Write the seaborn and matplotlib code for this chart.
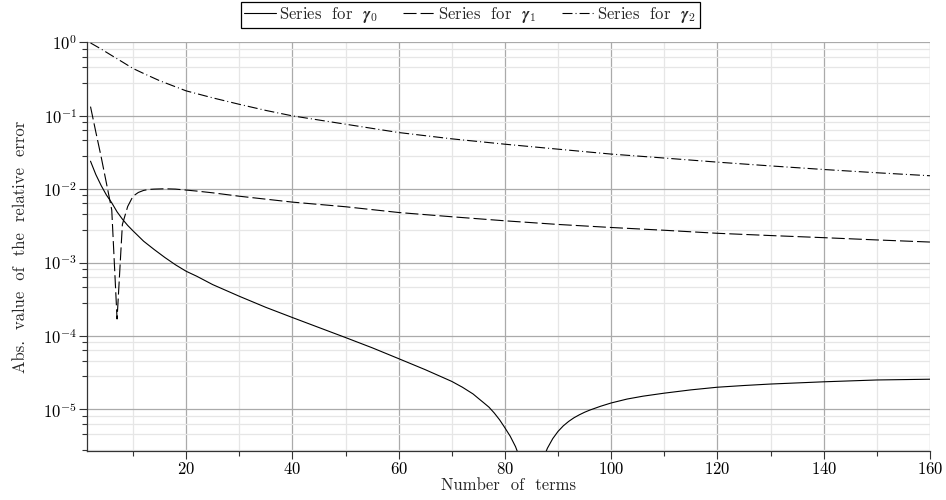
import pandas as pd
import matplotlib
matplotlib.use("Agg")
import matplotlib.pyplot as plt
from matplotlib.ticker import LogLocator, MultipleLocator, LogFormatterMathtext, NullFormatter
import seaborn as sns

# number of terms / abs. relative error
n_g0 = [2, 3, 4, 5, 6, 7, 8, 9, 10, 12, 14, 16, 18, 20, 22, 25, 30, 35, 40, 45, 50, 55,
        60, 65, 70, 72, 74, 75, 76, 77, 78, 79, 80, 81, 82, 83, 84, 85, 86, 87, 88, 89,
        90, 91, 92, 93, 94, 95, 96, 98, 100, 103, 106, 110, 115, 120, 125, 130, 140,
        150, 160]
err_g0 = [0.024, 0.0158, 0.0112, 0.0083, 0.0065, 0.0049, 0.0039, 0.0032, 0.0027, 0.00195,
          0.0015, 0.00117, 0.00093, 0.00076, 0.00065, 0.0005, 0.000347, 0.000245,
          0.000178, 0.00013, 9.5e-5, 6.9e-5, 4.9e-5, 3.47e-5, 2.4e-5, 2.0e-5, 1.62e-5,
          1.41e-5, 1.23e-5, 1.07e-5, 8.9e-6, 7.2e-6, 5.6e-6, 4.3e-6, 3.1e-6, 2.0e-6,
          1.0e-6, 1.0e-7, 9.5e-7, 1.95e-6, 2.95e-6, 3.98e-6, 5.0e-6, 5.96e-6, 6.84e-6,
          7.67e-6, 8.41e-6, 9.12e-6, 9.77e-6, 1.10e-5, 1.22e-5, 1.38e-5, 1.51e-5,
          1.66e-5, 1.84e-5, 2.0e-5, 2.11e-5, 2.21e-5, 2.37e-5, 2.51e-5, 2.57e-5]

n_g1 = [2, 3, 4, 5, 6, 7, 8, 9, 10, 11, 12, 13, 14, 15, 16, 17, 18, 20, 22, 25, 30, 40,
        50, 60, 70, 80, 90, 100, 110, 120, 130, 140, 150, 160]
err_g1 = [0.133, 0.06, 0.0276, 0.012, 0.0052, 1.7e-4, 0.0033, 0.0058, 0.0080, 0.0090,
          0.0096, 0.0099, 0.0100, 0.01005, 0.0101, 0.01005, 0.0100, 0.0097, 0.0094,
          0.0089, 0.0080, 0.00665, 0.00575, 0.0048, 0.0042, 0.0037, 0.0033, 0.0030,
          0.00275, 0.0025, 0.00233, 0.00218, 0.00203, 0.0019]

n_g2 = [2, 4, 6, 8, 10, 12, 15, 20, 25, 30, 35, 40, 50, 60, 70, 80, 90, 100, 110, 120,
        130, 140, 150, 160]
err_g2 = [0.98, 0.81, 0.66, 0.54, 0.44, 0.376, 0.30, 0.218, 0.175, 0.143, 0.118, 0.0995,
          0.0766, 0.059, 0.0484, 0.0409, 0.035, 0.030, 0.0265, 0.0233, 0.0207, 0.0185,
          0.0167, 0.0152]

labels = [r'Series  for  $\mathbfit{\gamma}_0$',
          r'Series  for  $\mathbfit{\gamma}_1$',
          r'Series  for  $\mathbfit{\gamma}_2$']

sns.set_style("ticks")
plt.rcParams['font.family'] = ['cmr10', 'DejaVu Serif']
plt.rcParams['mathtext.fontset'] = 'cm'
plt.rcParams['axes.formatter.use_mathtext'] = True
plt.rcParams['axes.unicode_minus'] = False
plt.rcParams['lines.scale_dashes'] = False

df = pd.concat([
    pd.DataFrame({'n': n_g0, 'err': err_g0, 'series': labels[0]}),
    pd.DataFrame({'n': n_g1, 'err': err_g1, 'series': labels[1]}),
    pd.DataFrame({'n': n_g2, 'err': err_g2, 'series': labels[2]}),
])

fig = plt.figure(figsize=(9.46, 5.0), dpi=100)
ax = fig.add_axes([0.0923, 0.0986, 0.8907, 0.8168])

styles = ['-', (0, (9.4, 2.9)), (0, (7.2, 2.2, 0.7, 2.2))]
for lab, ls in zip(labels, styles):
    sns.lineplot(data=df[df['series'] == lab], x='n', y='err', ax=ax, color='black',
                 linewidth=0.8, linestyle=ls, label=lab, legend=False)

ax.set_yscale('log')
ax.set_xlim(1.4, 160)
ax.set_ylim(2.73e-6, 1.0)

ax.xaxis.set_major_locator(MultipleLocator(20))
ax.xaxis.set_minor_locator(MultipleLocator(10))
ax.yaxis.set_major_locator(LogLocator(base=10, numticks=20))
ax.yaxis.set_minor_locator(LogLocator(base=10, subs=(2.8, 4.6, 6.4, 8.2), numticks=20))
ax.yaxis.set_major_formatter(LogFormatterMathtext())
ax.yaxis.set_minor_formatter(NullFormatter())

ax.grid(which='major', color='#aaaaaa', linewidth=0.9)
ax.grid(which='minor', color='#e6e6e6', linewidth=0.9)
ax.set_axisbelow(True)

for s in ['top', 'right']:
    ax.spines[s].set_visible(False)
for s in ['left', 'bottom']:
    ax.spines[s].set_color('#333333')
    ax.spines[s].set_linewidth(0.9)

ax.tick_params(which='major', direction='out', length=5.5, width=0.8, color='#333333',
               labelsize=12, labelcolor='black', pad=2)
ax.tick_params(which='minor', direction='out', length=3.5, width=0.8, color='#333333')

ax.set_xlabel('Number  of  terms', fontsize=12, labelpad=0.5)
ax.set_ylabel('Abs.  value  of  the  relative  error', fontsize=12, labelpad=11)

handles, labs = ax.get_legend_handles_labels()
leg = fig.legend(handles, labs, loc='upper center', bbox_to_anchor=(0.497, 1.0), ncol=3,
                 frameon=True, fancybox=False, framealpha=1, edgecolor='black',
                 fontsize=12, handlelength=1.9, handletextpad=0.2, columnspacing=1.5,
                 borderpad=0.2, borderaxespad=0.1)
leg.get_frame().set_linewidth(0.9)

fig.savefig('out.png', dpi=100)
